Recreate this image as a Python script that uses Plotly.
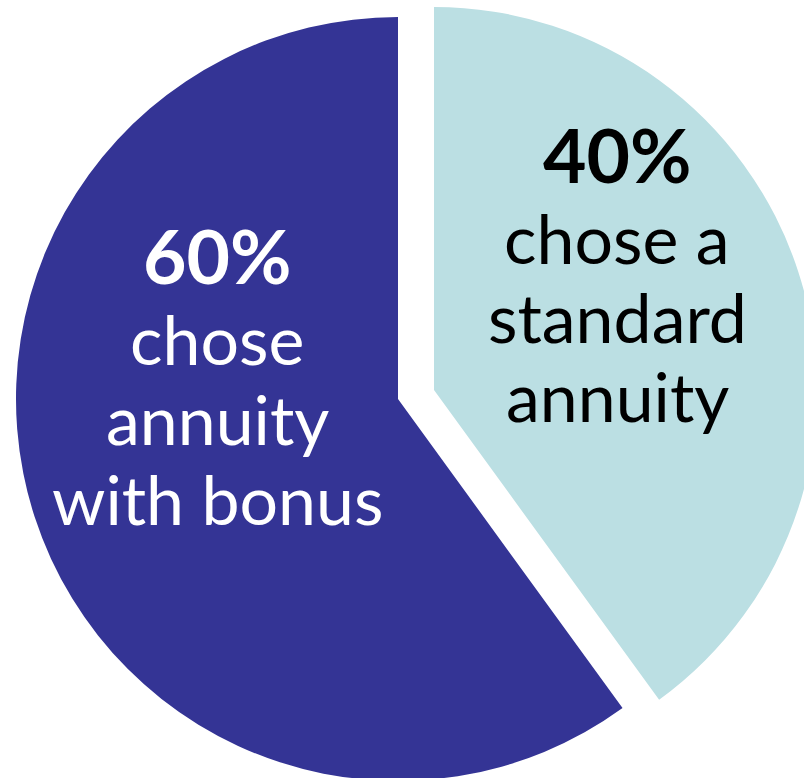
import plotly.graph_objects as go

# Share of retirees by annuity choice (percent)
choices = ["chose annuity with bonus", "chose a standard annuity"]
shares = [60, 40]
slice_colors = ["#343495", "#BBDFE3"]
text_colors = ["white", "black"]
desc_lines = [["chose", "annuity", "with bonus"], ["chose a", "standard", "annuity"]]

W, H = 820, 782
CLEAR = "rgba(0,0,0,0)"


def px_domain(cx, cy, r):
    """Pie domain (paper units) for a pie centred at pixel (cx, cy) with radius r."""
    return dict(x=[(cx - r) / W, (cx + r) / W],
                y=[1 - (cy + r) / H, 1 - (cy - r) / H])


# Slice order: standard annuity first (12 o'clock, clockwise), then bonus annuity
values = [shares[1], shares[0]]

fig = go.Figure()
# Main body of the pie: the bonus-annuity slice
fig.add_trace(go.Pie(
    values=values, labels=[choices[1], choices[0]], sort=False,
    direction="clockwise", rotation=0, textinfo="none", hoverinfo="skip",
    marker=dict(colors=[CLEAR, slice_colors[0]], line=dict(width=0)),
    domain=px_domain(398, 399, 382), showlegend=False,
))
# Exploded slice: the standard-annuity wedge, pushed out along its bisector
fig.add_trace(go.Pie(
    values=values, labels=[choices[1], choices[0]], sort=False,
    direction="clockwise", rotation=0, textinfo="none", hoverinfo="skip",
    marker=dict(colors=[slice_colors[1], CLEAR], line=dict(width=0)),
    domain=px_domain(434, 390, 383), showlegend=False,
))

FONT = "Lato"
PCT_SIZE, DESC_SIZE = 75, 68
BASE_OFF = 0.37  # baseline sits about 0.37 em below a text box's middle


def add_line(text, x, baseline, size, color):
    fig.add_annotation(
        x=x / W, y=1 - (baseline - BASE_OFF * size) / H, xref="paper", yref="paper",
        text=text, showarrow=False, xanchor="center", yanchor="middle",
        font=dict(family=FONT, size=size, color=color),
    )


# (x centre, percentage baseline, first description baseline, line gap) in pixels
label_pos = [(217, 283, 364, 80), (617, 182, 263, 79)]
for i in range(2):
    x, pct_base, desc_base, gap = label_pos[i]
    add_line(f"<b>{shares[i]}%</b>", x, pct_base, PCT_SIZE, text_colors[i])
    for k, line in enumerate(desc_lines[i]):
        add_line(line, x, desc_base + k * gap, DESC_SIZE, text_colors[i])

fig.update_layout(
    width=W, height=H,
    margin=dict(l=0, r=0, t=0, b=0),
    paper_bgcolor="white", plot_bgcolor="white",
)

fig.write_html(
    "out.html",
    config={"displayModeBar": False},
    post_script="document.documentElement.style.overflow='hidden';"
                "document.body.style.overflow='hidden';"
                "document.body.style.margin='0';",
)
